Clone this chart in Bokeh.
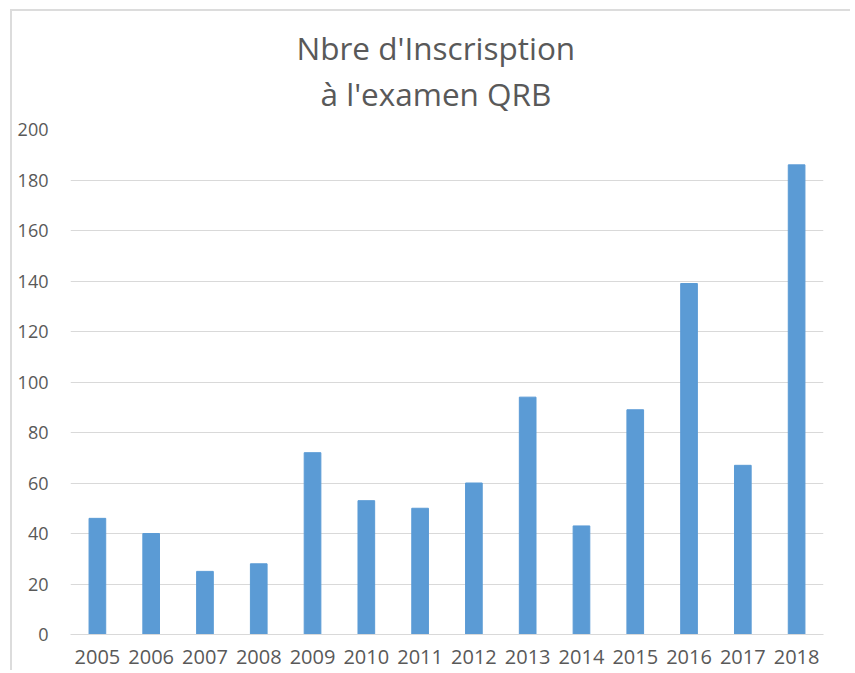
from bokeh.plotting import figure
from bokeh.models import Range1d, FixedTicker, Title
from bokeh.embed import file_html
from bokeh.resources import INLINE

years = ["2005", "2006", "2007", "2008", "2009", "2010", "2011",
         "2012", "2013", "2014", "2015", "2016", "2017", "2018"]
inscriptions = [46, 40, 25, 28, 72, 53, 50, 60, 94, 43, 89, 139, 67, 186]
y_ticks = [0, 20, 40, 60, 80, 100, 120, 140, 160, 180, 200]
title_line1 = "Nbre d'Inscrisption"
title_line2 = "à l'examen QRB"

FONT = "Open Sans"
TXT = "#595959"
GRID = "#d9d9d9"

p = figure(x_range=years, y_range=Range1d(0, 200),
           width=840, height=661,
           output_backend="svg", toolbar_location=None,
           min_border_left=58, min_border_right=29,
           min_border_bottom=38, min_border_top=118)

p.styles = {"border-left": "2px solid #dcdcdc", "border-top": "2px solid #dcdcdc",
            "margin-left": "10px", "margin-top": "9px"}

p.vbar(x=years, top=inscriptions, width=0.31, fill_color="#5B9BD5",
       line_color="#5B9BD5")

t2 = Title(text=title_line2, align="left", offset=250, text_font=FONT,
           text_font_size="31.5px", text_font_style="normal", text_color=TXT,
           standoff=29)
t1 = Title(text=title_line1, align="left", offset=226, text_font=FONT,
           text_font_size="31.5px", text_font_style="normal", text_color=TXT,
           standoff=-26)
p.add_layout(t2, "above")
p.add_layout(t1, "above")

p.outline_line_color = None
p.background_fill_color = "white"
p.border_fill_color = "white"

p.xgrid.grid_line_color = None
p.ygrid.grid_line_color = GRID
p.ygrid.grid_line_width = 1
p.yaxis.ticker = FixedTicker(ticks=y_ticks)

p.yaxis.axis_line_color = None
p.yaxis.major_tick_line_color = None
p.yaxis.minor_tick_line_color = None
p.yaxis.major_tick_out = 0
p.yaxis.major_label_standoff = 22
p.yaxis.major_label_text_font = FONT
p.yaxis.major_label_text_font_size = "18px"
p.yaxis.major_label_text_color = TXT

p.xaxis.axis_line_color = GRID
p.xaxis.major_tick_line_color = None
p.xaxis.minor_tick_line_color = None
p.xaxis.major_tick_out = 0
p.xaxis.major_label_standoff = 15
p.xaxis.major_label_text_font = FONT
p.xaxis.major_label_text_font_size = "20px"
p.xaxis.major_label_text_color = TXT

open("out.html", "w").write(file_html(p, INLINE))
